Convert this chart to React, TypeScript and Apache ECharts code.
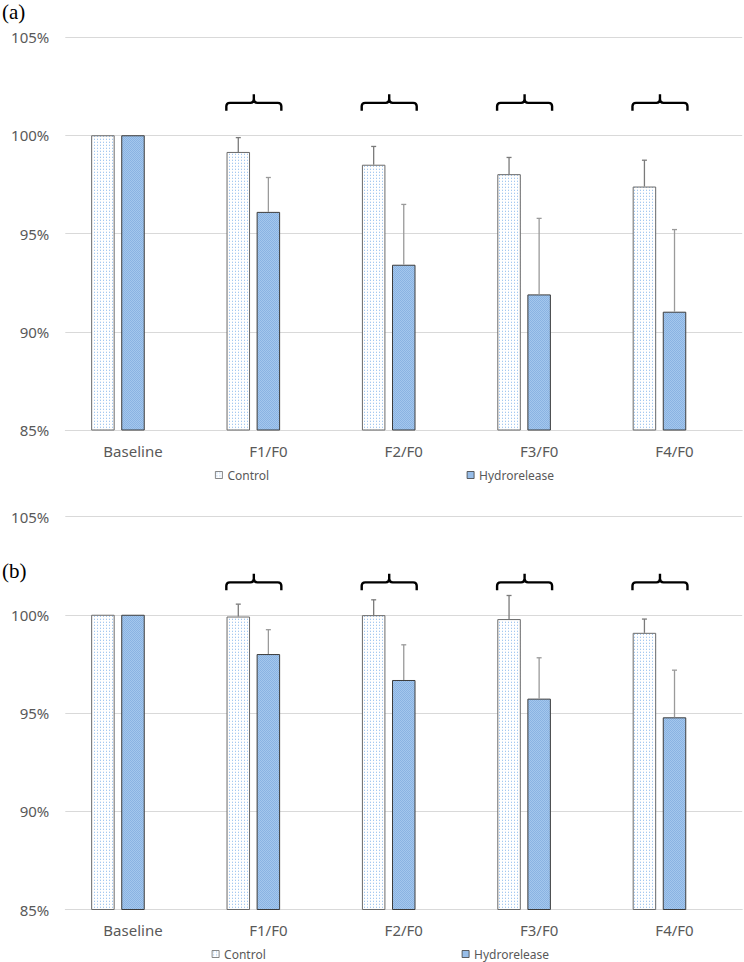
import React, { useEffect, useRef } from 'react';
import * as echarts from 'echarts';

// ---------- data ----------
const categories = ['Baseline', 'F1/F0', 'F2/F0', 'F3/F0', 'F4/F0'];
const seriesNames = ['Control', 'Hydrorelease'];
const panelLabels = ['(a)', '(b)'];
const yMin = 85;
const yMax = 105;
const yStep = 5;

const controlA = [100, 99.15, 98.5, 98.02, 97.39];
const controlErrA = [0, 0.73, 0.93, 0.85, 1.34];
const hydroA = [100, 96.1, 93.41, 91.9, 91.02];
const hydroErrA = [0, 1.75, 3.07, 3.87, 4.18];

const controlB = [100, 99.91, 99.98, 99.78, 99.08];
const controlErrB = [0, 0.63, 0.78, 1.2, 0.7];
const hydroB = [100, 98.0, 96.68, 95.73, 94.78];
const hydroErrB = [0, 1.24, 1.79, 2.08, 2.4];

const braceCategories = [1, 2, 3, 4];
const braceLevel = 101.65;

// ---------- style constants ----------
const FONT = 'Noto Sans';
const TEXT_GREY = '#595959';
const GRID_GREY = '#d9d9d9';
const BAR_W = 23.5;
const BAR_GAP = 0.28; // fraction of bar width
const STEP = BAR_W * (1 + BAR_GAP);

function makePattern(size: number, bg: string, dots: [number, number, string][]) {
  const c = document.createElement('canvas');
  c.width = size;
  c.height = size;
  const ctx = c.getContext('2d')!;
  ctx.fillStyle = bg;
  ctx.fillRect(0, 0, size, size);
  dots.forEach(([x, y, col]) => {
    ctx.fillStyle = col;
    ctx.fillRect(x, y, 1, 1);
  });
  return { image: c, repeat: 'repeat' } as any;
}

export default function App() {
  const ref = useRef<HTMLDivElement>(null);

  useEffect(() => {
    if (!ref.current) return;
    const chart = echarts.init(ref.current, null, { renderer: 'svg' });

    const controlFill = makePattern(3, '#ffffff', [[1, 1, '#a4c8f0'], [1, 0, '#e3eefa']]);
    const hydroFill = makePattern(2, '#a4c7ed', [[0, 0, '#8ab3e2'], [1, 1, '#8ab3e2']]);

    const panels = [
      { c: controlA, ce: controlErrA, h: hydroA, he: hydroErrA },
      { c: controlB, ce: controlErrB, h: hydroB, he: hydroErrB },
    ];
    const gridTops = [37, 516.5];
    const gridH = 393;
    const legendTops = [468, 947];
    const legendLefts = [
      [215, 466.7],
      [211.7, 461.7],
    ];

    const grids: any[] = [];
    const xAxes: any[] = [];
    const yAxes: any[] = [];
    const series: any[] = [];
    const legends: any[] = [];
    const graphics: any[] = [];

    panels.forEach((p, gi) => {
      grids.push({ left: 65.3, right: 1.8, top: gridTops[gi], height: gridH });
      xAxes.push({
        type: 'category',
        gridIndex: gi,
        data: categories,
        axisTick: { show: false },
        axisLine: { lineStyle: { color: GRID_GREY, width: 1 } },
        axisLabel: { color: TEXT_GREY, fontFamily: FONT, fontSize: 15, margin: 13 },
      });
      yAxes.push({
        type: 'value',
        gridIndex: gi,
        min: yMin,
        max: yMax,
        interval: yStep,
        axisLine: { show: false },
        axisTick: { show: false },
        splitLine: { lineStyle: { color: GRID_GREY, width: 1 } },
        axisLabel: {
          formatter: '{value}%',
          color: TEXT_GREY,
          fontFamily: FONT,
          fontSize: 15,
          margin: 16,
        },
      });

      const common = {
        type: 'bar',
        xAxisIndex: gi,
        yAxisIndex: gi,
        barWidth: BAR_W,
        barGap: `${BAR_GAP * 100}%`,
        clip: true,
      };
      series.push({
        ...common,
        name: seriesNames[0],
        data: p.c,
        itemStyle: { color: controlFill, borderColor: '#6a6a6a', borderWidth: 1 },
      });
      series.push({
        ...common,
        name: seriesNames[1],
        data: p.h,
        itemStyle: { color: hydroFill, borderColor: '#3c3c3c', borderWidth: 1 },
      });
      series.push({ ...common, name: '_pad', data: categories.map(() => null) });

      // error bars
      const errData: any[] = [];
      p.c.forEach((v, i) => errData.push([i, v, p.ce[i], -STEP, 0]));
      p.h.forEach((v, i) => errData.push([i, v, p.he[i], 0, 1]));
      series.push({
        type: 'custom',
        xAxisIndex: gi,
        yAxisIndex: gi,
        z: 5,
        silent: true,
        encode: { x: 0, y: 1 },
        data: errData,
        renderItem: (_params: any, api: any) => {
          const i = api.value(0);
          const v = api.value(1);
          const e = api.value(2);
          const off = api.value(3);
          const which = api.value(4);
          if (!(e > 0)) return { type: 'group', children: [] };
          const p0 = api.coord([i, v]);
          const p1 = api.coord([i, v + e]);
          const x = p0[0] + off;
          const stroke = which === 0 ? '#7a7a7a' : '#9a9a9a';
          return {
            type: 'group',
            children: [
              { type: 'line', shape: { x1: x, y1: p0[1], x2: x, y2: p1[1] }, style: { stroke, lineWidth: 1.3 } },
              { type: 'line', shape: { x1: x - 2.5, y1: p1[1], x2: x + 2.5, y2: p1[1] }, style: { stroke, lineWidth: 1.3 } },
            ],
          };
        },
      });

      // braces
      series.push({
        type: 'custom',
        xAxisIndex: gi,
        yAxisIndex: gi,
        z: 6,
        silent: true,
        encode: { x: 0, y: 1 },
        data: braceCategories.map((c) => [c, braceLevel]),
        renderItem: (_params: any, api: any) => {
          const pt = api.coord([api.value(0), api.value(1)]);
          const cx = pt[0] - STEP / 2 + 0.5;
          const y = pt[1];
          const hw = 27.5;
          const r = 3.5;
          const down = 8;
          const up = 8.5;
          const L = cx - hw;
          const R = cx + hw;
          const d =
            `M${L} ${y + down} L${L} ${y + r} Q${L} ${y} ${L + r} ${y} L${cx - r} ${y} Q${cx} ${y} ${cx} ${y - r} L${cx} ${y - up} ` +
            `M${R} ${y + down} L${R} ${y + r} Q${R} ${y} ${R - r} ${y} L${cx + r} ${y} Q${cx} ${y} ${cx} ${y - r}`;
          return {
            type: 'path',
            shape: { pathData: d },
            style: { fill: 'none', stroke: '#000', lineWidth: 2.4 },
          };
        },
      });

      seriesNames.forEach((n, si) => {
        legends.push({
          data: [n],
          left: legendLefts[gi][si],
          top: legendTops[gi],
          padding: 0,
          icon: 'rect',
          itemWidth: 7,
          itemHeight: 7,
          selectedMode: false,
          itemStyle: { borderColor: si === 0 ? '#6a6a6a' : '#3c3c3c', borderWidth: 0.8 },
          textStyle: { color: TEXT_GREY, fontFamily: FONT, fontSize: 12, lineHeight: 14 },
        });
      });

      graphics.push({
        type: 'text',
        left: 2,
        top: gi === 0 ? 1 : 560,
        style: {
          text: panelLabels[gi],
          fontFamily: 'Liberation Serif',
          fontSize: 21,
          fill: '#000',
        },
      });
    });

    chart.setOption({
      animation: false,
      backgroundColor: '#ffffff',
      grid: grids,
      xAxis: xAxes,
      yAxis: yAxes,
      legend: legends,
      series,
      graphic: graphics,
    });

    return () => chart.dispose();
  }, []);

  return (
    <div
      ref={ref}
      style={{ position: 'absolute', left: 0, top: 0, width: 744, height: 962 }}
    />
  );
}
